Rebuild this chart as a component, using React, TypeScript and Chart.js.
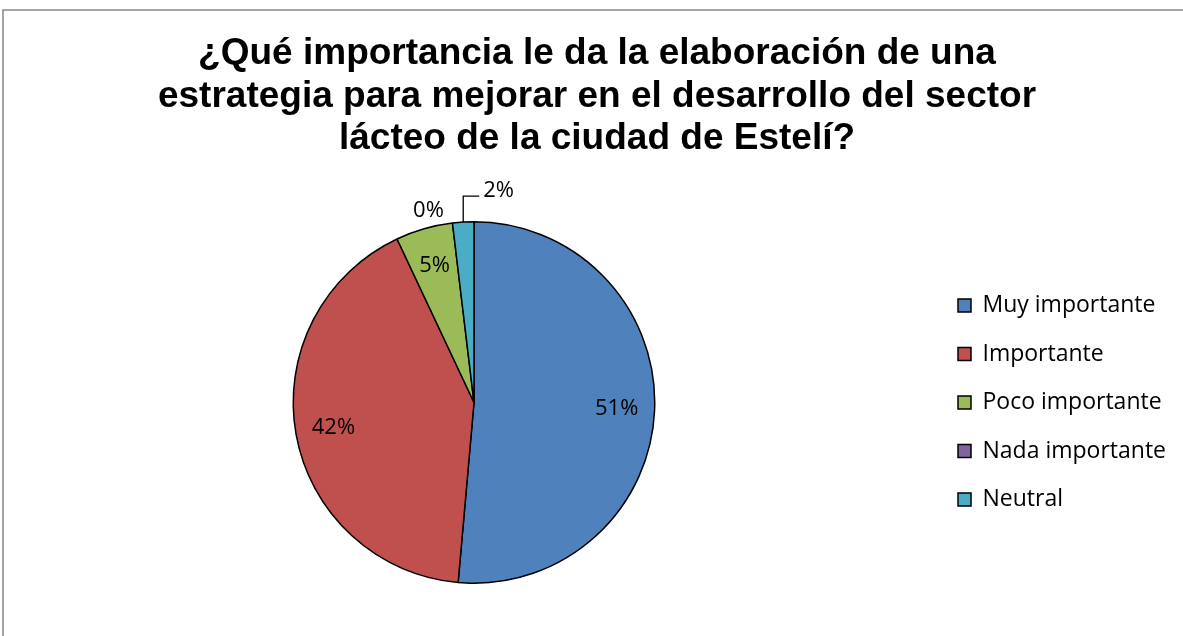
import React, { useEffect, useRef } from "react";
import { Chart, registerables } from "chart.js";

Chart.register(...registerables);

const TITLE_LINES = [
  "¿Qué importancia le da la elaboración de una",
  "estrategia para mejorar en el desarrollo del sector",
  "lácteo de la ciudad de Estelí?",
];
const CATEGORIES = ["Muy importante", "Importante", "Poco importante", "Nada importante", "Neutral"];
const SHARES = [51.4, 41.6, 5.1, 0, 1.9];
const COLORS = ["#4F81BD", "#C0504D", "#9BBB59", "#8064A2", "#4BACC6"];

const W = 1183;
const H = 636;
const LEGEND_FONT = 23;
const LABEL_FONT = 22;
const LEGEND_PAD = 25.5;
const LEGEND_BOX_X = 958;
const PIE_CENTER_X = 474;

// small slices get their labels outside the pie
const OUTSIDE_LABELS: Record<number, { dx: number; dy: number; leader?: boolean }> = {
  3: { dx: -24, dy: -12 },
  4: { dx: 20, dy: -31, leader: true },
};

const framePlugin = {
  id: "frame",
  beforeDraw(chart: any) {
    const ctx = chart.ctx;
    ctx.save();
    ctx.fillStyle = "#ffffff";
    ctx.fillRect(0, 0, chart.width, chart.height);
    ctx.strokeStyle = "#888888";
    ctx.lineWidth = 1.5;
    ctx.beginPath();
    ctx.moveTo(3, chart.height);
    ctx.lineTo(3, 10);
    ctx.lineTo(chart.width, 10);
    ctx.stroke();
    ctx.restore();
  },
};

const titlePlugin = {
  id: "multiTitle",
  afterDraw(chart: any) {
    const ctx = chart.ctx;
    ctx.save();
    ctx.font = 'bold 37px "Liberation Sans", Arial, sans-serif';
    ctx.fillStyle = "#000000";
    ctx.textAlign = "center";
    ctx.textBaseline = "alphabetic";
    TITLE_LINES.forEach((line, i) => {
      ctx.fillText(line, 597, 64 + i * 42.5);
    });
    ctx.restore();
  },
};

const labelPlugin = {
  id: "sliceLabels",
  afterDatasetsDraw(chart: any) {
    const ctx = chart.ctx;
    const meta = chart.getDatasetMeta(0);
    const data = chart.data.datasets[0].data as number[];
    const total = data.reduce((a, b) => a + b, 0);
    ctx.save();
    ctx.font = `${LABEL_FONT}px "Open Sans", sans-serif`;
    ctx.fillStyle = "#000000";
    ctx.strokeStyle = "#000000";
    ctx.lineWidth = 1.3;
    ctx.textBaseline = "middle";
    meta.data.forEach((arc: any, i: number) => {
      const { x, y, startAngle, endAngle, outerRadius } = arc.getProps(
        ["x", "y", "startAngle", "endAngle", "outerRadius"],
        true
      );
      const mid = (startAngle + endAngle) / 2;
      const share = data[i] / total;
      const txt = Math.round(share * 100) + "%";
      const out = OUTSIDE_LABELS[i];
      if (!out) {
        const r = outerRadius * 0.79;
        ctx.textAlign = "center";
        ctx.fillText(txt, x + Math.cos(mid) * r, y + Math.sin(mid) * r);
      } else {
        const ax = x + Math.cos(mid) * outerRadius;
        const ay = y + Math.sin(mid) * outerRadius;
        if (out.leader) {
          ctx.beginPath();
          ctx.moveTo(ax, ay);
          ctx.lineTo(ax, ay + out.dy + 5);
          ctx.lineTo(ax + out.dx - 4, ay + out.dy + 5);
          ctx.stroke();
          ctx.textAlign = "left";
          ctx.fillText(txt, ax + out.dx, ay + out.dy);
        } else {
          ctx.textAlign = "center";
          ctx.fillText(txt, ax + out.dx, ay + out.dy);
        }
      }
    });
    ctx.restore();
  },
};

export default function App() {
  const ref = useRef<HTMLCanvasElement | null>(null);

  useEffect(() => {
    const canvas = ref.current;
    if (!canvas) return;
    const mctx = document.createElement("canvas").getContext("2d")!;
    mctx.font = `${LEGEND_FONT}px "Open Sans", sans-serif`;
    const maxText = Math.max(...CATEGORIES.map((c) => mctx.measureText(c).width));
    const itemW = 13 + LEGEND_FONT / 2 + maxText;
    // Chart.js adds 10px to the width of a vertical legend
    const padRight = W - (LEGEND_BOX_X + itemW) - 10;
    const legendLeft = LEGEND_BOX_X - LEGEND_PAD;
    const padLeft = 2 * PIE_CENTER_X - legendLeft;

    const chart = new Chart(canvas, {
      type: "pie",
      data: {
        labels: CATEGORIES,
        datasets: [
          {
            data: SHARES,
            backgroundColor: COLORS,
            borderColor: "#000000",
            borderWidth: 1.5,
          },
        ],
      },
      options: {
        responsive: false,
        animation: false,
        layout: { padding: { top: 221, bottom: 52, left: padLeft, right: padRight } },
        plugins: {
          title: { display: false },
          tooltip: { enabled: false },
          legend: {
            position: "right",
            align: "center",
            labels: {
              boxWidth: 13,
              boxHeight: 13,
              padding: LEGEND_PAD,
              color: "#000000",
              font: { size: LEGEND_FONT, family: '"Open Sans", sans-serif' },
            },
          },
        },
      },
      plugins: [framePlugin, titlePlugin, labelPlugin],
    });
    return () => chart.destroy();
  }, []);

  return (
    <div style={{ position: "fixed", left: 0, top: 0, width: W, height: H }}>
      <canvas ref={ref} width={W} height={H} style={{ display: "block" }} />
    </div>
  );
}
